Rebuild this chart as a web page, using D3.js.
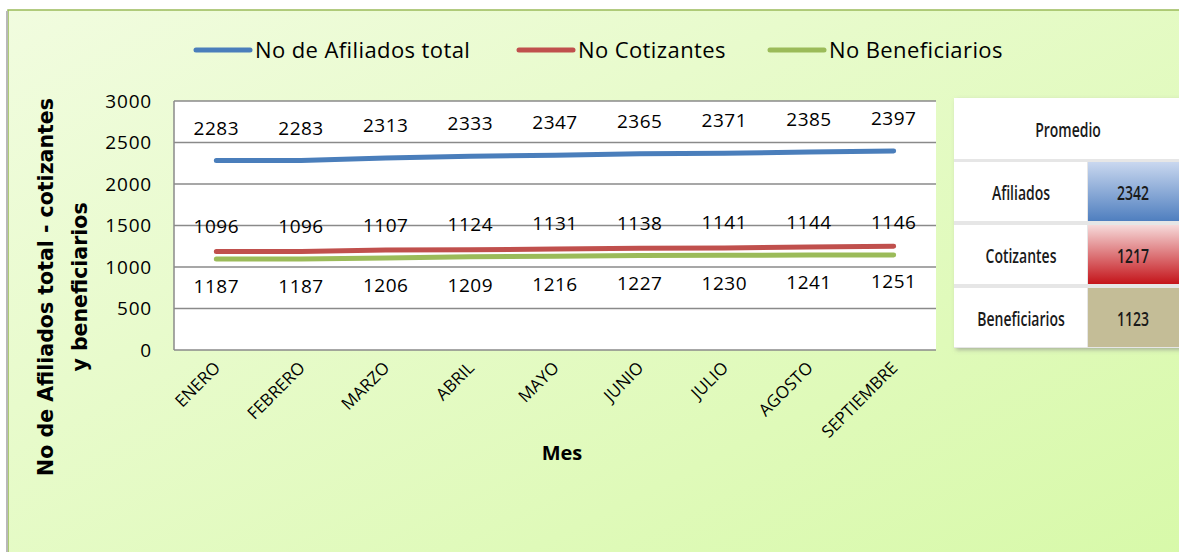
<!DOCTYPE html>
<html>
<head>
<meta charset="utf-8">
<script src="https://d3js.org/d3.v7.min.js"></script>
<style>
  body { margin: 0; background: white; }
  text { font-family: 'Open Sans', sans-serif; fill: #000; }
  .tbl text { font-family: 'Open Sans', sans-serif; font-weight: 600; fill: #1a1a1a; }
</style>
</head>
<body>
<svg id="canvas" width="1179" height="552"></svg>
<script>
// data
const months = ['ENERO', 'FEBRERO', 'MARZO', 'ABRIL', 'MAYO', 'JUNIO', 'JULIO', 'AGOSTO', 'SEPTIEMBRE']
const afiliados = [2283, 2283, 2313, 2333, 2347, 2365, 2371, 2385, 2397]
const cotizantes = [1187, 1187, 1206, 1209, 1216, 1227, 1230, 1241, 1251]
const beneficiarios = [1096, 1096, 1107, 1124, 1131, 1138, 1141, 1144, 1146]
const yTicks = [0, 500, 1000, 1500, 2000, 2500, 3000]
const promedioLabels = ['Afiliados', 'Cotizantes', 'Beneficiarios']
const promedioValues = [2342, 1217, 1123]

const series = [
  { name: 'No de Afiliados total', values: afiliados, color: '#4a7ebb', labelOffset: -26 },
  { name: 'No Cotizantes', values: cotizantes, color: '#c0504d', labelOffset: 42 },
  { name: 'No Beneficiarios', values: beneficiarios, color: '#9bbb59', labelOffset: -26 }
]

const svg = d3.select('#canvas')
const defs = svg.append('defs')

// background gradient of the chart area
const bg = defs.append('linearGradient').attr('id', 'bg')
  .attr('x1', 0).attr('y1', 0).attr('x2', 1).attr('y2', 1)
bg.append('stop').attr('offset', 0).attr('stop-color', '#f1fcdf')
bg.append('stop').attr('offset', 1).attr('stop-color', '#d6f9a6')

const gBlue = defs.append('linearGradient').attr('id', 'gBlue').attr('x1', 0).attr('y1', 0).attr('x2', 0).attr('y2', 1)
gBlue.append('stop').attr('offset', 0).attr('stop-color', '#c9d7ef')
gBlue.append('stop').attr('offset', 1).attr('stop-color', '#4f7fbf')
const gRed = defs.append('linearGradient').attr('id', 'gRed').attr('x1', 0).attr('y1', 0).attr('x2', 0).attr('y2', 1)
gRed.append('stop').attr('offset', 0).attr('stop-color', '#f6dada')
gRed.append('stop').attr('offset', 1).attr('stop-color', '#c4141a')

const shadow = defs.append('filter').attr('id', 'shadow')
  .attr('x', '-5%').attr('y', '-5%').attr('width', '115%').attr('height', '115%')
shadow.append('feDropShadow').attr('dx', 2).attr('dy', 2).attr('stdDeviation', 2)
  .attr('flood-color', '#888').attr('flood-opacity', 0.6)

svg.append('rect')
  .attr('x', 8).attr('y', 10).attr('width', 1200).attr('height', 600)
  .attr('fill', 'url(#bg)').attr('stroke', '#9bbb59').attr('stroke-width', 1.5)
svg.append('line').attr('x1', 7).attr('x2', 7).attr('y1', 11).attr('y2', 552)
  .attr('stroke', '#b8b8b8').attr('stroke-width', 2)

// plot area
const plot = { left: 174, right: 936, top: 101, bottom: 350 }
const x = d3.scalePoint().domain(months).range([plot.left, plot.right]).padding(0.5)
const y = d3.scaleLinear().domain([0, 3000]).range([plot.bottom, plot.top])

svg.append('rect')
  .attr('x', plot.left).attr('y', plot.top)
  .attr('width', plot.right - plot.left).attr('height', plot.bottom - plot.top)
  .attr('fill', 'white')

// grid lines
svg.append('g').selectAll('line')
  .data(yTicks)
  .join('line')
  .attr('x1', plot.left).attr('x2', plot.right)
  .attr('y1', d => y(d)).attr('y2', d => y(d))
  .attr('stroke', '#8a8a8a').attr('stroke-width', 1.5)
svg.append('line').attr('x1', plot.left).attr('x2', plot.left)
  .attr('y1', plot.top).attr('y2', plot.bottom)
  .attr('stroke', '#8a8a8a').attr('stroke-width', 1.5)

// y axis
const yAxis = d3.axisLeft(y).tickValues(yTicks).tickFormat(d3.format('d')).tickSize(0).tickPadding(22)
const gy = svg.append('g').attr('transform', `translate(${plot.left}, 0)`).call(yAxis)
gy.select('.domain').remove()
gy.selectAll('text').style('font-size', '19px').style('font-family', "'Open Sans', sans-serif")
  .attr('fill', '#000').attr('letter-spacing', 0.8)

// x axis labels
const gx = svg.append('g')
gx.selectAll('text')
  .data(months)
  .join('text')
  .attr('transform', d => `translate(${x(d) + 5}, 369) rotate(-45)`)
  .attr('text-anchor', 'end')
  .style('font-size', '17px')
  .text(d => d)

// lines
const line = d3.line().x((d, i) => x(months[i])).y(d => y(d))
series.forEach(s => {
  svg.append('path')
    .datum(s.values)
    .attr('d', line)
    .attr('fill', 'none')
    .attr('stroke', s.color)
    .attr('stroke-width', 5)
    .attr('stroke-linecap', 'round')
})

// data labels
series.forEach(s => {
  svg.append('g').selectAll('text')
    .data(s.values)
    .join('text')
    .attr('x', (d, i) => x(months[i]))
    .attr('y', d => y(d) + s.labelOffset)
    .attr('text-anchor', 'middle')
    .style('font-size', '19px')
    .attr('letter-spacing', 0.5)
    .text(d => d)
})

// legend
const legendX = [196, 519, 770]
const legend = svg.append('g').selectAll('g')
  .data(series)
  .join('g')
  .attr('transform', (d, i) => `translate(${legendX[i]}, 50)`)
legend.append('line')
  .attr('x1', 0).attr('x2', 54)
  .attr('stroke', d => d.color).attr('stroke-width', 5).attr('stroke-linecap', 'round')
legend.append('text')
  .attr('x', 59).attr('y', 8)
  .style('font-size', '22px')
  .attr('letter-spacing', 0.4)
  .text(d => d.name)

// axis titles
svg.append('text')
  .attr('x', 562).attr('y', 460)
  .attr('text-anchor', 'middle')
  .style('font-size', '20px').style('font-weight', 'bold')
  .text('Mes')

const yTitle = svg.append('text')
  .attr('transform', 'translate(53, 287) rotate(-90)')
  .attr('text-anchor', 'middle')
  .style('font-family', "'DejaVu Sans', sans-serif")
  .style('font-size', '20.5px').style('font-weight', 'bold')
yTitle.append('tspan').attr('x', 0).attr('dy', 0).text('No de Afiliados total - cotizantes')
yTitle.append('tspan').attr('x', 0).attr('dy', 34).text('y beneficiarios')

// promedio table (condensed text via horizontal scaling)
const tbl = svg.append('g').attr('class', 'tbl')
const tx = 954, valX = 1088, tw = 240
const condensed = (cx, cy) => `translate(${cx}, ${cy}) scale(0.7, 1)`
tbl.append('rect').attr('x', tx).attr('y', 98).attr('width', tw).attr('height', 250)
  .attr('fill', '#e6e6e6').attr('filter', 'url(#shadow)')
tbl.append('rect').attr('x', tx).attr('y', 98).attr('width', tw).attr('height', 61).attr('fill', 'white')
tbl.append('text').attr('transform', condensed(1068, 137)).attr('text-anchor', 'middle')
  .style('font-size', '20px').text('Promedio')

const rowY = [162, 225, 288]
const rowFill = ['url(#gBlue)', 'url(#gRed)', '#c4bd97']
const rows = tbl.selectAll('g.row')
  .data(promedioLabels)
  .join('g').attr('class', 'row')
rows.append('rect').attr('x', tx).attr('y', (d, i) => rowY[i])
  .attr('width', valX - tx - 1).attr('height', 59).attr('fill', 'white')
rows.append('rect').attr('x', valX).attr('y', (d, i) => rowY[i])
  .attr('width', tw).attr('height', 59).attr('fill', (d, i) => rowFill[i])
rows.append('text').attr('transform', (d, i) => condensed((tx + valX) / 2, rowY[i] + 38))
  .attr('text-anchor', 'middle').style('font-size', '20px')
  .text(d => d)
rows.append('text').attr('transform', (d, i) => condensed(1133, rowY[i] + 38))
  .attr('text-anchor', 'middle').style('font-size', '20px')
  .text((d, i) => promedioValues[i])
</script>
</body>
</html>
